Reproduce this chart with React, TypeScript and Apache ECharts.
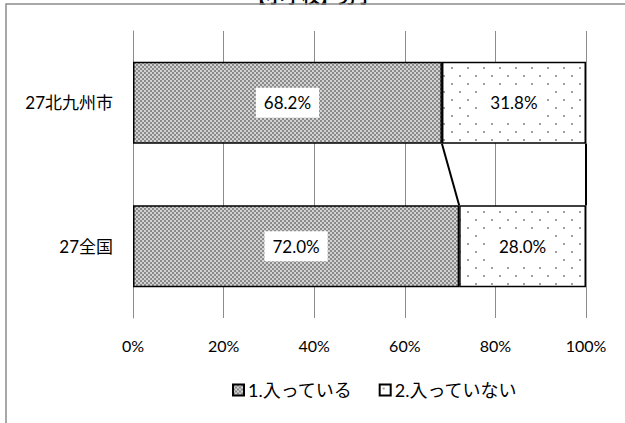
import React, { useEffect, useRef } from "react";
import * as echarts from "echarts";

const categories = ["27北九州市", "27全国"];
const seriesNames = ["1.入っている", "2.入っていない"];
const seriesIn = [68.2, 72.0];
const seriesOut = [31.8, 28.0];
const xTicks = [0, 20, 40, 60, 80, 100];
const titleText = "【小学校】男子";

function makeChecker(): HTMLCanvasElement {
  const c = document.createElement("canvas");
  c.width = 4;
  c.height = 4;
  const ctx = c.getContext("2d")!;
  ctx.fillStyle = "#d2d2d2";
  ctx.fillRect(0, 0, 4, 4);
  ctx.fillStyle = "#8a8a8a";
  ctx.fillRect(0, 0, 2, 2);
  ctx.fillRect(2, 2, 2, 2);
  return c;
}

function makeDots(): HTMLCanvasElement {
  const c = document.createElement("canvas");
  c.width = 16;
  c.height = 16;
  const ctx = c.getContext("2d")!;
  ctx.fillStyle = "#ffffff";
  ctx.fillRect(0, 0, 16, 16);
  ctx.fillStyle = "#a0a0a0";
  ctx.fillRect(3, 3, 2, 2);
  ctx.fillRect(11, 11, 2, 2);
  return c;
}

export default function App() {
  const ref = useRef<HTMLDivElement>(null);
  useEffect(() => {
    if (!ref.current) return;
    const chart = echarts.init(ref.current, undefined, { renderer: "svg" });
    const checker = { image: makeChecker(), repeat: "repeat" } as any;
    const dots = { image: makeDots(), repeat: "repeat" } as any;
    const font = "Lato, 'Noto Sans CJK JP', sans-serif";
    const gapRatio = 0.57;
    const cum1 = seriesIn;
    const cum2 = seriesIn.map((v, i) => v + seriesOut[i]);
    const lineData = [
      [cum1[0], 0, cum1[1], 1],
      [cum2[0], 0, cum2[1], 1],
    ];
    const labelStyle = {
      show: true,
      position: "inside",
      formatter: (p: any) => p.value.toFixed(1) + "%",
      backgroundColor: "#ffffff",
      padding: [7, 8, 6, 8],
      fontSize: 17,
      color: "#000",
      fontFamily: font,
    };
    chart.setOption({
      animation: false,
      textStyle: { fontFamily: font },
      grid: { left: 133, right: 39, top: 31, bottom: 105 },
      xAxis: {
        type: "value",
        min: 0,
        max: 100,
        interval: 20,
        axisLine: { show: false },
        axisTick: { show: false },
        splitLine: { show: true, lineStyle: { color: "#8c8c8c", width: 1 } },
        axisLabel: {
          formatter: (v: number) => (xTicks.includes(v) ? v + "%" : ""),
          fontSize: 16,
          color: "#000",
          margin: 19,
          fontFamily: font,
        },
      },
      yAxis: {
        type: "category",
        inverse: true,
        data: categories,
        axisLine: { show: true, lineStyle: { color: "#8c8c8c", width: 1 } },
        axisTick: { show: false },
        axisLabel: { fontSize: 17, color: "#000", margin: 20, fontFamily: font },
      },
      legend: {
        left: 227,
        top: 376,
        itemWidth: 11,
        itemHeight: 11,
        itemGap: 26,
        icon: "rect",
        textStyle: { fontSize: 18, color: "#000", fontFamily: font, padding: [0, 0, 0, -1] },
        data: seriesNames,
      },
      series: [
        {
          name: seriesNames[0],
          type: "bar",
          stack: "s",
          barCategoryGap: "43%",
          data: seriesIn,
          itemStyle: { color: checker, borderColor: "#000", borderWidth: 1.5 },
          label: labelStyle,
        },
        {
          name: seriesNames[1],
          type: "bar",
          stack: "s",
          barCategoryGap: "43%",
          data: seriesOut,
          itemStyle: { color: dots, borderColor: "#000", borderWidth: 1.5 },
          label: labelStyle,
        },
        {
          type: "custom",
          silent: true,
          clip: false,
          z: 5,
          encode: { x: [0, 2], y: [1, 3] },
          data: lineData,
          renderItem: (params: any, api: any) => {
            const p1 = api.coord([api.value(0), api.value(1)]);
            const p2 = api.coord([api.value(2), api.value(3)]);
            const band = api.size([0, 1])[1];
            const h = (band * gapRatio) / 2;
            return {
              type: "line",
              shape: { x1: p1[0], y1: p1[1] + h, x2: p2[0], y2: p2[1] - h },
              style: { stroke: "#000", lineWidth: 2 },
            };
          },
        },
      ],
      graphic: [
        {
          type: "text",
          x: 311,
          y: 5,
          style: {
            text: titleText,
            fontSize: 18,
            fontWeight: "bold",
            fill: "#000",
            textAlign: "center",
            textVerticalAlign: "bottom",
            fontFamily: font,
          },
        },
        {
          type: "rect",
          shape: { x: 6, y: 4, width: 900, height: 900 },
          style: { fill: "none", stroke: "#8c8c8c", lineWidth: 1.5 },
          silent: true,
        },
      ],
    });
    return () => chart.dispose();
  }, []);
  return (
    <div
      ref={ref}
      style={{ position: "fixed", left: 0, top: 0, width: 625, height: 423, background: "#fff" }}
    />
  );
}
